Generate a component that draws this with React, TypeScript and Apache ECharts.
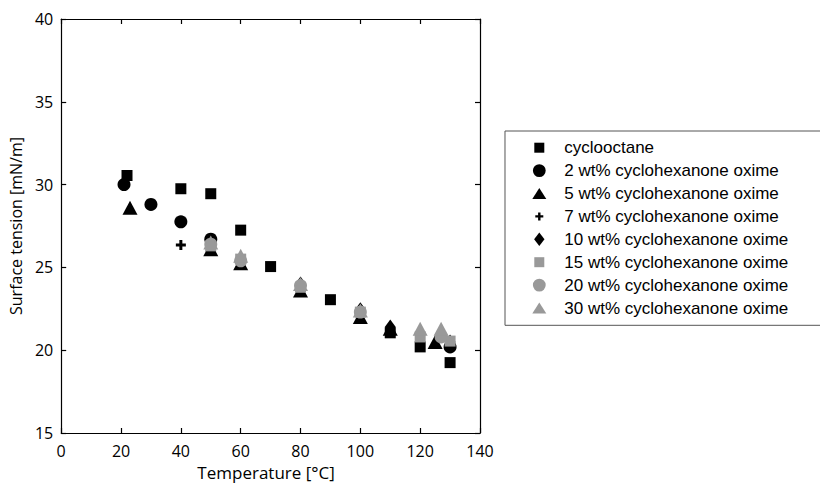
import React, { useEffect, useRef } from "react";
import * as echarts from "echarts";

const seriesNames = [
  "cyclooctane",
  "2 wt% cyclohexanone oxime",
  "5 wt% cyclohexanone oxime",
  "7 wt% cyclohexanone oxime",
  "10 wt% cyclohexanone oxime",
  "15 wt% cyclohexanone oxime",
  "20 wt% cyclohexanone oxime",
  "30 wt% cyclohexanone oxime",
];

const tCyclooctane = [22, 40, 50, 60, 70, 90, 110, 120, 130];
const vCyclooctane = [30.55, 29.75, 29.45, 27.25, 25.05, 23.05, 21.05, 20.2, 19.25];

const t2 = [21, 30, 40, 50, 130];
const v2 = [30.0, 28.8, 27.75, 26.7, 20.2];

const t5 = [23, 50, 60, 80, 100, 110, 125];
const v5 = [28.6, 26.1, 25.25, 23.6, 22.0, 21.3, 20.5];

const t7 = [40, 50, 60];
const v7 = [26.35, 26.0, 25.3];

const t10 = [50, 60, 80, 100, 110, 130];
const v10 = [26.2, 25.5, 24.0, 22.45, 21.4, 20.5];

const t15 = [50, 60, 80, 100, 120, 130];
const v15 = [26.3, 25.5, 23.8, 22.3, 20.8, 20.55];

const t20 = [50, 60, 80, 100, 127];
const v20 = [26.4, 25.4, 23.9, 22.3, 20.8];

const t30 = [50, 60, 80, 100, 120, 127];
const v30 = [26.5, 25.7, 24.0, 22.4, 21.3, 21.3];

const xTicks = { min: 0, max: 140, interval: 20 };
const yTicks = { min: 15, max: 40, interval: 5 };

const BLACK = "#000000";
const GREY = "#999999";
const PLUS = "path://M3.5,0H6.5V3.5H10V6.5H6.5V10H3.5V6.5H0V3.5H3.5Z";

// legend icons, padded inside a 14x14 box so that each keeps its own size
const ICON_SQUARE = "path://M0,0M14,14M2,2H12V12H2Z";
const ICON_CIRCLE = "path://M0,0M14,14M0.6,7A6.4,6.4,0,1,0,13.4,7A6.4,6.4,0,1,0,0.6,7Z";
const ICON_TRIANGLE = "path://M0,0M14,14M7,1L14.5,13H-0.5Z";
const ICON_PLUS = "path://M0,0M14,14M5.8,3H8.2V5.8H11V8.2H8.2V11H5.8V8.2H3V5.8H5.8Z";
const ICON_DIAMOND = "path://M0,0M14,14M7,0.3L12.2,7L7,13.7L1.8,7Z";

const zip = (t: number[], v: number[]) => t.map((x, i) => [x, v[i]]);

export default function App() {
  const ref = useRef<HTMLDivElement>(null);
  useEffect(() => {
    document.body.style.margin = "0";
    if (!ref.current) return;
    const chart = echarts.init(ref.current, null, { renderer: "svg" });
    const axisFont = { fontFamily: "Open Sans", fontSize: 16, color: BLACK };
    const specs = [
      { t: tCyclooctane, v: vCyclooctane, symbol: "rect", size: 11, color: BLACK, icon: ICON_SQUARE },
      { t: t2, v: v2, symbol: "circle", size: 13, color: BLACK, icon: ICON_CIRCLE },
      { t: t5, v: v5, symbol: "triangle", size: [15, 14], color: BLACK, icon: ICON_TRIANGLE },
      { t: t7, v: v7, symbol: PLUS, size: 10, color: BLACK, icon: ICON_PLUS },
      { t: t10, v: v10, symbol: "diamond", size: [11, 15], color: BLACK, icon: ICON_DIAMOND },
      { t: t15, v: v15, symbol: "rect", size: 11, color: GREY, icon: ICON_SQUARE },
      { t: t20, v: v20, symbol: "circle", size: 13, color: GREY, icon: ICON_CIRCLE },
      { t: t30, v: v30, symbol: "triangle", size: [15, 14], color: GREY, icon: ICON_TRIANGLE },
    ];
    const axisLine = { show: true, onZero: false, lineStyle: { color: BLACK, width: 1.2 } };
    const axisTick = { show: true, inside: true, length: 5, lineStyle: { color: BLACK, width: 1.2 } };
    chart.setOption({
      animation: false,
      backgroundColor: "#ffffff",
      grid: { left: 61, right: 340, top: 19, bottom: 49, containLabel: false },
      xAxis: [
        {
          type: "value",
          ...xTicks,
          position: "bottom",
          name: "Temperature [°C]",
          nameLocation: "middle",
          nameGap: 31,
          nameTextStyle: { ...axisFont, fontSize: 17, padding: [0, 9, 0, 0] },
          axisLine,
          axisTick,
          axisLabel: { ...axisFont, margin: 10 },
          splitLine: { show: false },
        },
        {
          type: "value",
          ...xTicks,
          position: "top",
          axisLine,
          axisTick,
          axisLabel: { show: false },
          splitLine: { show: false },
        },
      ],
      yAxis: [
        {
          type: "value",
          ...yTicks,
          position: "left",
          name: "Surface tension [mN/m]",
          nameLocation: "middle",
          nameGap: 28,
          nameTextStyle: { ...axisFont, fontSize: 16 },
          axisLine,
          axisTick,
          axisLabel: { ...axisFont, margin: 8 },
          splitLine: { show: false },
        },
        {
          type: "value",
          ...yTicks,
          position: "right",
          axisLine,
          axisTick,
          axisLabel: { show: false },
          splitLine: { show: false },
        },
      ],
      legend: {
        orient: "vertical",
        left: 505,
        top: 131,
        itemWidth: 14,
        itemHeight: 14,
        itemGap: 4.9,
        padding: [7.7, 35, 8.3, 27.3],
        borderColor: "#555555",
        borderWidth: 1,
        backgroundColor: "#ffffff",
        textStyle: {
          fontFamily: "Liberation Sans",
          fontSize: 17,
          color: BLACK,
          lineHeight: 18,
          padding: [0, 0, 0, 13],
        },
        data: seriesNames.map((n, i) => ({ name: n, icon: specs[i].icon })),
      },
      series: specs.map((s, i) => ({
        type: "scatter",
        name: seriesNames[i],
        symbol: s.symbol,
        symbolSize: s.size,
        itemStyle: { color: s.color, opacity: 1 },
        data: zip(s.t, s.v),
        emphasis: { disabled: true },
      })),
    });
    return () => chart.dispose();
  }, []);
  return <div ref={ref} style={{ width: 820, height: 486 }} />;
}
